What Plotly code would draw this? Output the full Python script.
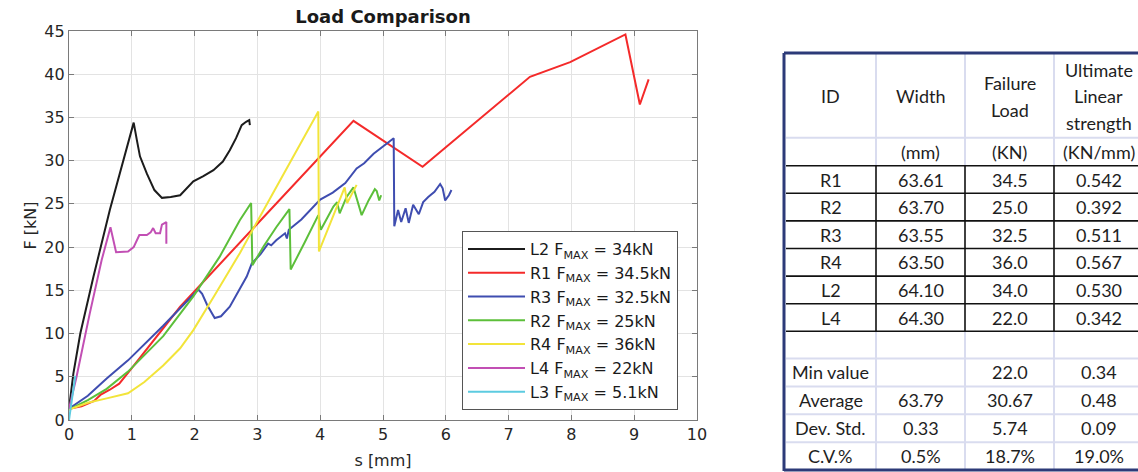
import plotly.graph_objects as go

# ---------------- curve data (s [mm], F [kN]) ----------------
L2_s = [0, 0.07, 0.18, 0.39, 0.65, 0.85, 1.03, 1.08, 1.13, 1.24, 1.36, 1.48, 1.62, 1.77, 1.88, 1.98,
        2.14, 2.3, 2.45, 2.56, 2.66, 2.75, 2.82, 2.87, 2.88]
L2_F = [1.3, 5.4, 10.0, 16.6, 24.3, 29.5, 34.4, 32.4, 30.5, 28.5, 26.6, 25.7, 25.8, 26.0, 26.8, 27.6,
        28.2, 28.9, 29.9, 31.2, 32.6, 34.1, 34.5, 34.7, 34.1]

R1_s = [0, 0.2, 0.4, 0.5, 0.65, 0.8, 1.0, 1.77, 3.0, 4.53, 5.63, 7.34, 7.98, 8.86, 9.09, 9.23]
R1_F = [1.3, 1.6, 2.2, 2.9, 3.5, 4.2, 6.0, 13.1, 22.7, 34.6, 29.3, 39.7, 41.4, 44.6, 36.5, 39.4]

R3_s = [0, 0.3, 0.6, 0.94, 1.5, 2.06, 2.12, 2.2, 2.32, 2.42, 2.56, 2.7, 2.83, 2.91, 3.05, 3.17, 3.22,
        3.3, 3.44, 3.47, 3.5, 3.7, 4.0, 4.2, 4.4, 4.58, 4.7, 4.85, 5.0, 5.14, 5.17, 5.18, 5.24, 5.29,
        5.36, 5.41, 5.48, 5.57, 5.64, 5.72, 5.82, 5.91, 5.95, 5.99, 6.05, 6.09]
R3_F = [1.3, 2.8, 4.8, 6.9, 10.9, 15.1, 14.6, 13.3, 11.8, 12.0, 13.1, 14.9, 16.6, 18.1, 19.2, 20.4, 20.2,
        20.8, 21.6, 21.0, 22.0, 23.2, 25.5, 26.3, 27.4, 29.1, 29.7, 30.8, 31.6, 32.4, 32.6, 22.4, 24.3, 22.9,
        24.5, 22.8, 24.9, 23.8, 25.2, 25.8, 26.4, 27.3, 26.8, 25.4, 26.0, 26.6]

R2_s = [0, 0.3, 0.6, 0.94, 1.5, 1.98, 2.4, 2.72, 2.9, 2.92, 3.1, 3.3, 3.51, 3.53, 3.75, 3.97, 4.01,
        4.21, 4.27, 4.31, 4.42, 4.53, 4.66, 4.77, 4.87, 4.9, 4.94, 4.97]
R2_F = [1.2, 2.3, 3.6, 5.6, 9.7, 14.3, 18.9, 23.1, 25.1, 17.9, 20.1, 22.3, 24.4, 17.4, 20.5, 23.7, 22.0,
        24.7, 25.2, 23.9, 25.8, 26.9, 23.7, 25.4, 26.7, 26.5, 25.4, 26.0]

R4_s = [0, 0.3, 0.6, 0.94, 1.2, 1.5, 1.77, 1.98, 2.3, 2.72, 3.0, 3.5, 3.89, 3.97, 3.98, 4.1, 4.25,
        4.39, 4.43, 4.5, 4.58]
R4_F = [1.2, 2.0, 2.5, 3.1, 4.4, 6.3, 8.3, 10.4, 14.2, 19.3, 23.0, 29.5, 34.7, 35.7, 19.5, 21.7, 24.3,
        26.9, 25.1, 26.0, 27.2]

L4_s = [0, 0.12, 0.33, 0.52, 0.66, 0.75, 0.94, 1.03, 1.12, 1.24, 1.3, 1.34, 1.38, 1.45, 1.48, 1.55, 1.55]
L4_F = [1.3, 5.0, 12.3, 18.5, 22.3, 19.4, 19.5, 20.0, 21.4, 21.4, 21.7, 22.2, 21.6, 21.6, 22.6, 22.9, 20.4]

L3_s = [0, 0.05, 0.1]
L3_F = [0, 2.8, 5.1]

series_names = ["L2 F<sub>MAX</sub> = 34kN", "R1 F<sub>MAX</sub> = 34.5kN", "R3 F<sub>MAX</sub> = 32.5kN",
                "R2 F<sub>MAX</sub> = 25kN", "R4 F<sub>MAX</sub> = 36kN", "L4 F<sub>MAX</sub> = 22kN",
                "L3 F<sub>MAX</sub> = 5.1kN"]
series_s = [L2_s, R1_s, R3_s, R2_s, R4_s, L4_s, L3_s]
series_F = [L2_F, R1_F, R3_F, R2_F, R4_F, L4_F, L3_F]
series_colors = ["#1c1c1c", "#f42a2a", "#3f4db0", "#5cbf3a", "#f2e43a", "#c24fb4", "#5ccbe0"]

x_ticks = list(range(0, 11))
y_ticks = list(range(0, 46, 5))

# ---------------- table data ----------------
tbl_headers = [["ID"], ["Width"], ["Failure", "Load"], ["Ultimate", "Linear", "strength"]]
tbl_units = ["", "(mm)", "(KN)", "(KN/mm)"]
tbl_ids = ["R1", "R2", "R3", "R4", "L2", "L4"]
tbl_width = ["63.61", "63.70", "63.55", "63.50", "64.10", "64.30"]
tbl_load = ["34.5", "25.0", "32.5", "36.0", "34.0", "22.0"]
tbl_strength = ["0.542", "0.392", "0.511", "0.567", "0.530", "0.342"]
stat_labels = ["Min value", "Average", "Dev. Std.", "C.V.%"]
stat_width = ["", "63.79", "0.33", "0.5%"]
stat_load = ["22.0", "30.67", "5.74", "18.7%"]
stat_strength = ["0.34", "0.48", "0.09", "19.0%"]

# ---------------- figure ----------------
W, H = 1138, 472
PL, PR, PT, PB = 69, 697, 31, 420   # plot area in pixels

fig = go.Figure()
for name, xs, ys, col in zip(series_names, series_s, series_F, series_colors):
    fig.add_trace(go.Scatter(x=xs, y=ys, mode="lines", name=name,
                             line=dict(color=col, width=2)))

axis_font = dict(family="DejaVu Sans", size=16, color="#262626")
common_axis = dict(showgrid=True, gridcolor="#e3e3e3", gridwidth=1, showline=True,
                   linecolor="#7a7a7a", linewidth=1.3, mirror="ticks", ticks="inside",
                   ticklen=5, tickcolor="#7a7a7a", zeroline=False, tickfont=axis_font,
                   automargin=False)

fig.update_layout(
    width=W, height=H,
    margin=dict(l=PL, r=W - PR, t=PT, b=H - PB, autoexpand=False),
    paper_bgcolor="white", plot_bgcolor="white",
    title=dict(text="<b>Load Comparison</b>", x=(PL + PR) / 2 / W, xanchor="center",
               y=1 - 17 / H, yanchor="middle",
               font=dict(family="DejaVu Sans", size=18, color="#1a1a1a")),
    xaxis=dict(range=[0, 10], tickvals=x_ticks,
               title=dict(text="s [mm]", font=axis_font, standoff=11), **common_axis),
    yaxis=dict(range=[0, 45], tickvals=y_ticks,
               title=dict(text="F [kN]", font=axis_font, standoff=3), **common_axis),
    legend=dict(x=(462 - PL) / (PR - PL), y=(PB - 231) / (PB - PT), xanchor="left", yanchor="top",
                bgcolor="white", bordercolor="#555555", borderwidth=1,
                font=dict(family="DejaVu Sans", size=16, color="#1a1a1a"),
                itemwidth=57, tracegroupgap=0),
    showlegend=True,
)

# ---------------- table drawn with shapes + annotations ----------------
def fx(p):
    return (p - PL) / (PR - PL)

def fy(p):
    return (PB - p) / (PB - PT)

col_edges = [785, 876, 965, 1054, 1143]
col_centers = [(a + b) / 2 for a, b in zip(col_edges[:-1], col_edges[1:])]
top, head_bot, units_bot = 53, 137.7, 165.7
row_h = 27.6
data_edges = [units_bot + i * row_h for i in range(len(tbl_ids) + 1)]
blank_bot = data_edges[-1] + 27.2
stat_h = (470 - blank_bot) / len(stat_labels)
stat_edges = [blank_bot + i * stat_h for i in range(len(stat_labels) + 1)]

light = "#d9dcef"
navy = "#2c3a78"
shapes = []

def hline(y, x0, x1, color, w):
    shapes.append(dict(type="line", xref="paper", yref="paper", x0=fx(x0), x1=fx(x1),
                       y0=fy(y), y1=fy(y), line=dict(color=color, width=w)))

def vline(x, y0, y1, color, w):
    shapes.append(dict(type="line", xref="paper", yref="paper", x0=fx(x), x1=fx(x),
                       y0=fy(y0), y1=fy(y1), line=dict(color=color, width=w)))

# light grid in header and footer
for xe in col_edges[1:-1]:
    vline(xe, top, units_bot, light, 2)
    vline(xe, data_edges[-1], 470, light, 2)
hline(head_bot, 786, W, light, 2)
for ye in stat_edges[:-1]:
    hline(ye, 786, W, light, 2)
# black grid in data rows
for ye in data_edges:
    hline(ye, 786, W, "#111111", 1.6)
for xe in col_edges[1:-1]:
    vline(xe, data_edges[0], data_edges[-1], "#111111", 1.6)
# outer navy border
hline(top, 784, W, navy, 3)
hline(470, 784, W, navy, 3)
vline(784, top, 471, navy, 3)

annotations = []
tfont = dict(family="Lato", size=18, color="#1e1e1e")

def text(x, y, s):
    annotations.append(dict(xref="paper", yref="paper", x=fx(x), y=fy(y), text=s,
                            showarrow=False, xanchor="center", yanchor="middle", font=tfont))

head_mid = (top + head_bot) / 2 + 1
for cx, lines in zip(col_centers, tbl_headers):
    n = len(lines)
    for k, s in enumerate(lines):
        text(cx, head_mid + (k - (n - 1) / 2) * 26.5, s)
for cx, s in zip(col_centers, tbl_units):
    if s:
        text(cx, (head_bot + units_bot) / 2, s)
for i in range(len(tbl_ids)):
    yc = (data_edges[i] + data_edges[i + 1]) / 2
    for cx, s in zip(col_centers, [tbl_ids[i], tbl_width[i], tbl_load[i], tbl_strength[i]]):
        text(cx, yc, s)
for i in range(len(stat_labels)):
    yc = (stat_edges[i] + stat_edges[i + 1]) / 2
    for cx, s in zip(col_centers, [stat_labels[i], stat_width[i], stat_load[i], stat_strength[i]]):
        if s:
            text(cx, yc, s)

fig.update_layout(shapes=shapes, annotations=annotations)

fig.write_html("out.html", config={"displayModeBar": False},
               post_script="document.body.style.margin='0';document.body.style.overflow='hidden';")
